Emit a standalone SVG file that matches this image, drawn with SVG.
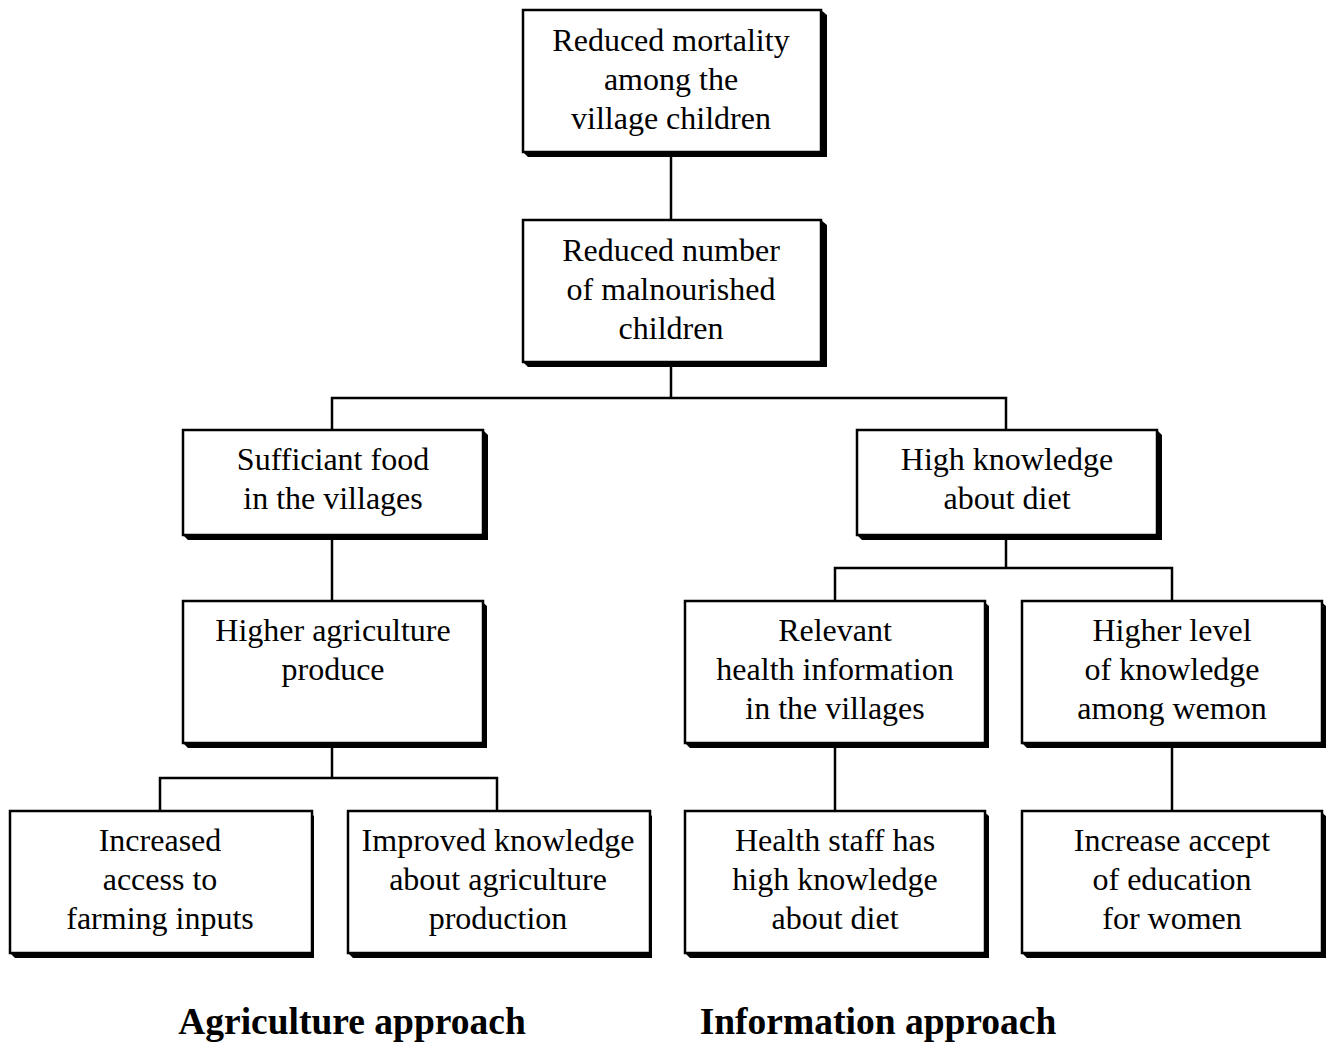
<svg xmlns="http://www.w3.org/2000/svg" width="1336" height="1043" viewBox="0 0 1336 1043">
  <style>
    .box { fill: #fff; stroke: #000; stroke-width: 2.5; }
    .shadow { fill: #000; }
    .lbl { font-family: "Liberation Serif", "Times New Roman", serif; font-size: 32px; fill: #000; text-anchor: middle; }
    .cap { font-family: "Liberation Serif", "Times New Roman", serif; font-size: 37.5px; font-weight: bold; fill: #000; text-anchor: middle; }
    .wire { fill: none; stroke: #000; stroke-width: 2.5; }
  </style>
  <defs>
    <!-- extruded shadows for the two box heights, drawn at the origin -->
    <polygon id="sh142" points="298,0 304,5 304,147 5,147 0,142 298,142"/>
    <polygon id="sh105" points="300,0 305,5 305,110 5,110 0,105 300,105"/>
  </defs>
  <rect width="1336" height="1043" fill="#fff"/>

  <g id="connectors">
    <path class="wire" d="M671,152 V220"/>
    <path class="wire" d="M671,362 V398 M332,430 V398 H1006 V430"/>
    <path class="wire" d="M332,535 V600"/>
    <path class="wire" d="M332,743 V778 M160,811 V778 H497 V811"/>
    <path class="wire" d="M1006,535 V568 M835,600 V568 H1172 V600"/>
    <path class="wire" d="M835,743 V811"/>
    <path class="wire" d="M1172,743 V811"/>
  </g>

  <g id="n-mortality">
    <use href="#sh142" class="shadow" x="523" y="10"/>
    <rect class="box" x="523" y="10" width="298" height="142"/>
    <text class="lbl"><tspan x="671" y="51">Reduced mortality</tspan><tspan x="671" y="90">among the</tspan><tspan x="671" y="129">village children</tspan></text>
  </g>

  <g id="n-malnourished">
    <use href="#sh142" class="shadow" x="523" y="220"/>
    <rect class="box" x="523" y="220" width="298" height="142"/>
    <text class="lbl"><tspan x="671" y="261">Reduced number</tspan><tspan x="671" y="300">of malnourished</tspan><tspan x="671" y="339">children</tspan></text>
  </g>

  <g id="n-food">
    <use href="#sh105" class="shadow" x="183" y="430"/>
    <rect class="box" x="183" y="430" width="300" height="105"/>
    <text class="lbl"><tspan x="333" y="470">Sufficiant food</tspan><tspan x="333" y="509">in the villages</tspan></text>
  </g>

  <g id="n-diet">
    <use href="#sh105" class="shadow" x="857" y="430"/>
    <rect class="box" x="857" y="430" width="300" height="105"/>
    <text class="lbl"><tspan x="1007" y="470">High knowledge</tspan><tspan x="1007" y="509">about diet</tspan></text>
  </g>

  <g id="n-produce">
    <use href="#sh142" class="shadow" x="183" y="601"/>
    <rect class="box" x="183" y="601" width="300" height="142"/>
    <text class="lbl"><tspan x="333" y="641">Higher agriculture</tspan><tspan x="333" y="680">produce</tspan></text>
  </g>

  <g id="n-health-info">
    <use href="#sh142" class="shadow" x="685" y="601"/>
    <rect class="box" x="685" y="601" width="300" height="142"/>
    <text class="lbl"><tspan x="835" y="641">Relevant</tspan><tspan x="835" y="680">health information</tspan><tspan x="835" y="719">in the villages</tspan></text>
  </g>

  <g id="n-women-knowledge">
    <use href="#sh142" class="shadow" x="1022" y="601"/>
    <rect class="box" x="1022" y="601" width="300" height="142"/>
    <text class="lbl"><tspan x="1172" y="641">Higher level</tspan><tspan x="1172" y="680">of knowledge</tspan><tspan x="1172" y="719">among wemon</tspan></text>
  </g>

  <g id="n-inputs">
    <use href="#sh142" class="shadow" x="10" y="811"/>
    <rect class="box" x="10" y="811" width="302" height="142"/>
    <text class="lbl"><tspan x="160" y="851">Increased</tspan><tspan x="160" y="890">access to</tspan><tspan x="160" y="929">farming inputs</tspan></text>
  </g>

  <g id="n-agri-knowledge">
    <use href="#sh142" class="shadow" x="348" y="811"/>
    <rect class="box" x="348" y="811" width="302" height="142"/>
    <text class="lbl"><tspan x="498" y="851">Improved knowledge</tspan><tspan x="498" y="890">about agriculture</tspan><tspan x="498" y="929">production</tspan></text>
  </g>

  <g id="n-staff">
    <use href="#sh142" class="shadow" x="685" y="811"/>
    <rect class="box" x="685" y="811" width="300" height="142"/>
    <text class="lbl"><tspan x="835" y="851">Health staff has</tspan><tspan x="835" y="890">high knowledge</tspan><tspan x="835" y="929">about diet</tspan></text>
  </g>

  <g id="n-education">
    <use href="#sh142" class="shadow" x="1022" y="811"/>
    <rect class="box" x="1022" y="811" width="300" height="142"/>
    <text class="lbl"><tspan x="1172" y="851">Increase accept</tspan><tspan x="1172" y="890">of education</tspan><tspan x="1172" y="929">for women</tspan></text>
  </g>

  <g id="captions">
    <text class="cap" x="352" y="1034">Agriculture approach</text>
    <text class="cap" x="878" y="1034">Information approach</text>
  </g>
</svg>
